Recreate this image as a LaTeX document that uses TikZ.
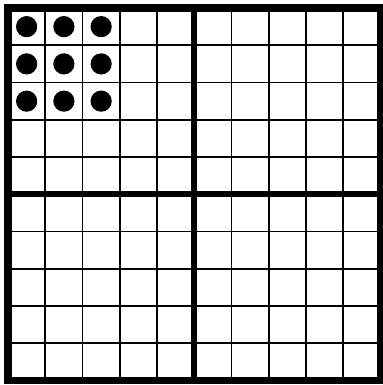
\documentclass[tikz,border=0pt]{standalone}
\usetikzlibrary{positioning}
\begin{document}
\begin{tikzpicture}[
  thinline/.style={line width=1.4pt},
  thickline/.style={line width=4.6pt},
  frameline/.style={line width=6pt},
  counter/.style={circle, fill=black, inner sep=0pt, minimum size=0.57cm}
]
  \useasboundingbox (-0.215,0.215) rectangle (10.04,-10.12);

  % Thin cell lines
  \foreach \i in {1,2,3,4,6,7,8,9} {
    \draw[thinline] (\i,0) -- (\i,-10);
    \draw[thinline] (0,-\i) -- (10,-\i);
  }

  % Quadrant dividers
  \draw[thickline] (5,0) -- (5,-10);
  \draw[thickline] (0,-5) -- (10,-5);

  % Outer frame
  \draw[frameline] (0,0) rectangle (10,-10);

  % Counters (3 x 3)
  \foreach \r in {1,2,3} {
    \foreach \c in {1,2,3} {
      \node[counter] (dot-\r-\c) at (\c-0.5,0.5-\r) {};
    }
  }
\end{tikzpicture}
\end{document}
